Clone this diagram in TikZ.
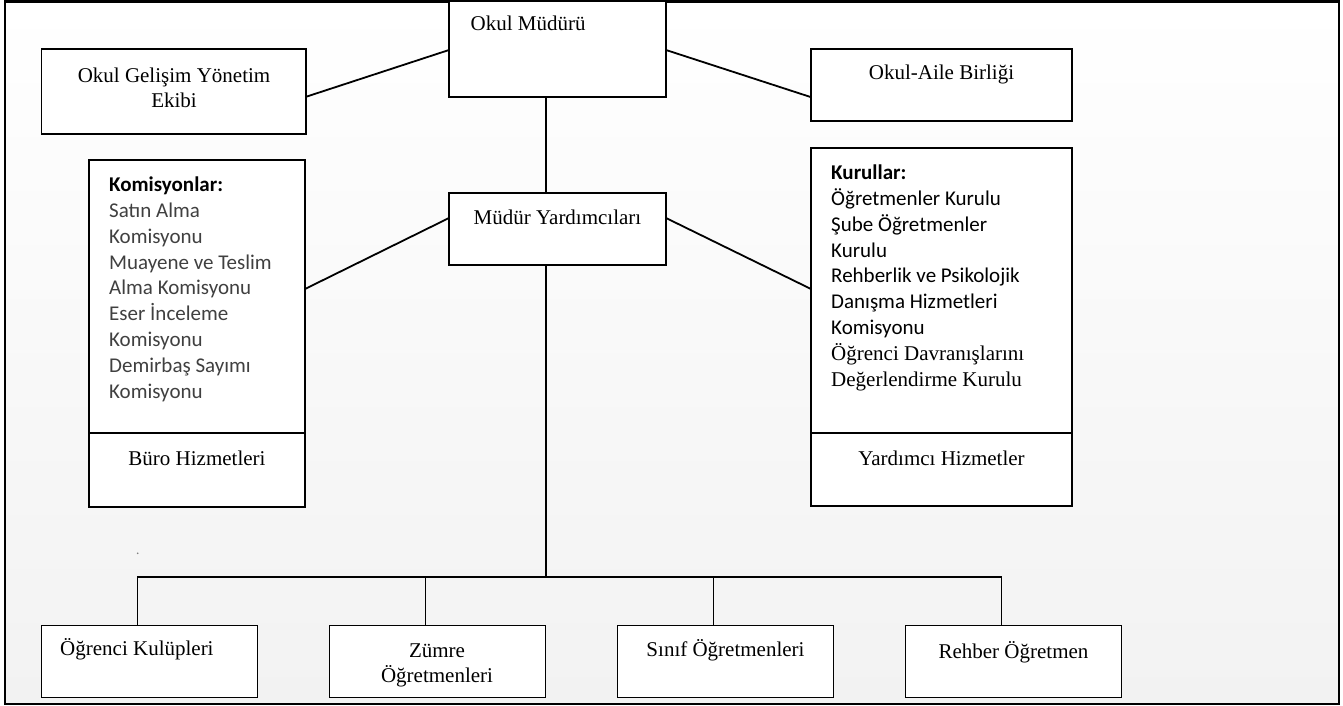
\documentclass[tikz,border=0pt]{standalone}
\usepackage{fontspec}
\setmainfont{Liberation Serif}
\newfontfamily\calibfont{Carlito}
\definecolor{frameGray}{RGB}{242,242,242}
\definecolor{listGray}{RGB}{64,64,64}
\newcommand{\orgsize}{\fontsize{21}{25}\selectfont}
\newcommand{\listsize}{\fontsize{21}{25.8}\selectfont}

\begin{document}
\begin{tikzpicture}[x=1pt,y=-1pt,
  box/.style={draw,line width=1.8pt,fill=white,anchor=north west,inner sep=0pt,outer sep=0pt},
  link/.style={line width=1.8pt},
  txt/.style={font=\orgsize,inner sep=0pt,anchor=base},
  lst/.style={font=\calibfont\listsize,inner sep=0pt,anchor=north west,align=left}]
  \useasboundingbox (0,0) rectangle (1343,706);
  \draw[line width=2.6pt,top color=white,bottom color=frameGray] (5,1.3) rectangle (1339,704);

  % top row
  \node[box,minimum width=217pt,minimum height=96pt] (mud) at (449,1) {};
  \node[box,minimum width=264.5pt,minimum height=85pt] (geb) at (41.5,49.3) {};
  \node[box,minimum width=261pt,minimum height=71.7pt] (oab) at (811,49.3) {};
  \node[txt,anchor=base west] (mudT) at (470.5,31) {Okul Müdürü};
  \node[txt,anchor=north,align=center] (gebT) at (174,64.5) {\strut Okul Gelişim Yönetim\\Ekibi};
  \node[txt] (oabT) at (941.5,80) {Okul-Aile Birliği};

  % middle row
  \node[box,minimum width=216pt,minimum height=273pt] (kom) at (89,160) {};
  \node[box,minimum width=216pt,minimum height=74pt] (buro) at (89,433) {};
  \node[box,minimum width=261pt,minimum height=285pt] (kur) at (811,148) {};
  \node[box,minimum width=261pt,minimum height=73pt] (yhz) at (811,433) {};
  \node[box,minimum width=217pt,minimum height=72pt] (myard) at (449,193.3) {};
  \node[txt] (myardT) at (557.5,224.3) {Müdür Yardımcıları};
  \node[txt] (buroT) at (197,465) {Büro Hizmetleri};
  \node[txt] (yhzT) at (941.5,465) {Yardımcı Hizmetler};
  \node[lst,text=listGray] (komT) at (109,173.4) {\strut\textcolor{black}{\textbf{Komisyonlar:}}\\Satın Alma\\Komisyonu\\Muayene ve Teslim\\Alma Komisyonu\\Eser İnceleme\\Komisyonu\\Demirbaş Sayımı\\Komisyonu};
  \node[lst] (kurT) at (831,161.4) {\strut\textbf{Kurullar:}\\Öğretmenler Kurulu\\Şube Öğretmenler\\Kurulu\\Rehberlik ve Psikolojik\\Danışma Hizmetleri\\Komisyonu\\{\rmfamily Öğrenci Davranışlarını}\\{\rmfamily Değerlendirme Kurulu}};

  % bottom row
  \foreach \b/\i in {ogk/0,zum/1,sin/2,reh/3}
    \node[box,minimum width=216pt,minimum height=72pt] (\b) at ({41.5+288*\i},625.5) {};
  \node[txt,anchor=base west] (ogkT) at (60,655) {Öğrenci Kulüpleri};
  \node[txt,anchor=north,align=center] (zumT) at (437,639.5) {\strut Zümre\\Öğretmenleri};
  \node[txt] (sinT) at (725.5,656) {Sınıf Öğretmenleri};
  \node[txt] (rehT) at (1013.5,658) {Rehber Öğretmen};

  % connectors
  \coordinate (bus) at (546,577.3);
  \draw[link] ([yshift=-5pt]geb.east) -- ([yshift=-1pt]mud.west);
  \draw[link] ([yshift=-12pt]oab.west) -- ([yshift=-1pt]mud.east);
  \draw[link] ([xshift=-11.5pt]mud.south) -- ([xshift=-11.5pt]myard.north);
  \draw[link] ([yshift=7.5pt]kom.east) -- ([yshift=11.3pt]myard.west);
  \draw[link] ([yshift=1.5pt]kur.west) -- ([yshift=11.3pt]myard.east);
  \draw[link] ([xshift=-11.5pt]myard.south) -- (bus);
  \foreach \b in {ogk,zum,sin,reh}
    \draw[link] ([xshift=-12pt]\b.north) |- (bus);
  \fill[gray] (137.7,553.3) circle (0.9);
\end{tikzpicture}
\end{document}
